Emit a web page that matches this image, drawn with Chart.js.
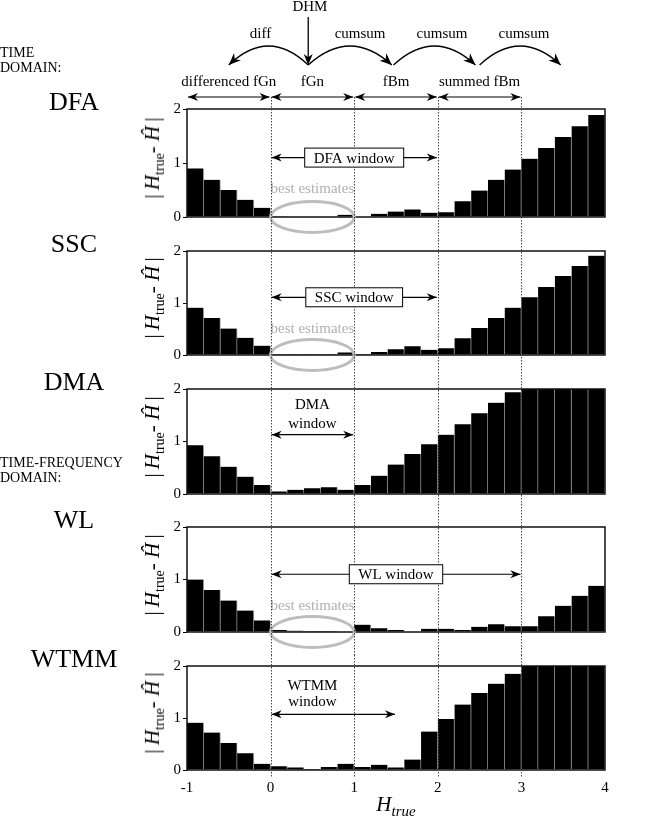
<!DOCTYPE html>
<html><head><meta charset="utf-8">
<script src="https://cdn.jsdelivr.net/npm/chart.js@4.4.0/dist/chart.umd.min.js"></script>
<style>
html,body{margin:0;padding:0;background:#fff;}
#wrap{position:relative;width:656px;height:819px;overflow:hidden;font-family:"Liberation Serif","Times New Roman",serif;color:#000;}
#wrap canvas{position:absolute;left:0;}
.lbl{position:absolute;white-space:nowrap;z-index:5;}
.panel{font-size:26px;transform:translate(-50%,-50%);}
.dom{font-size:14px;line-height:15px;left:0;}
.ytitle{font-size:21px;transform:translate(-50%,-50%) rotate(-90deg);}
.ytitle sub{font-size:14px;}
.xtitle{font-size:21px;transform:translate(-50%,-50%);}
.xtitle sub{font-size:15px;}
</style></head>
<body>
<div id="wrap">
  <div class="lbl dom" style="top:45px">TIME<br>DOMAIN:</div>
  <div class="lbl dom" style="top:455px">TIME-FREQUENCY<br>DOMAIN:</div>
</div>
<script>
// ---- data ----
const hTrue = [-0.9,-0.7,-0.5,-0.3,-0.1,0.1,0.3,0.5,0.7,0.9,1.1,1.3,1.5,1.7,1.9,2.1,2.3,2.5,2.7,2.9,3.1,3.3,3.5,3.7,3.9];
const dfaErr  = [0.90,0.69,0.50,0.32,0.17,0.005,0.01,0.01,0.01,0.04,0.01,0.06,0.10,0.14,0.08,0.09,0.29,0.49,0.69,0.88,1.08,1.28,1.48,1.68,1.89];
const sscErr  = [0.91,0.71,0.51,0.33,0.18,0.02,0.02,0.02,0.02,0.05,0.02,0.06,0.11,0.17,0.10,0.13,0.32,0.52,0.71,0.91,1.11,1.31,1.52,1.71,1.91];
const dmaErr  = [0.93,0.72,0.52,0.33,0.17,0.05,0.08,0.11,0.13,0.08,0.17,0.35,0.56,0.76,0.95,1.13,1.33,1.54,1.74,1.94,2,2,2,2,2];
const wlErr   = [1.00,0.80,0.60,0.41,0.22,0.04,0.025,0.02,0.02,0.01,0.14,0.07,0.04,0.01,0.06,0.06,0.04,0.10,0.15,0.11,0.11,0.30,0.50,0.69,0.88];
const wtmmErr = [0.91,0.72,0.52,0.32,0.12,0.07,0.05,0.02,0.06,0.12,0.06,0.10,0.05,0.20,0.74,0.98,1.26,1.48,1.66,1.85,2,2,2,2,2];
const methods = ['DFA','SSC','DMA','WL','WTMM'];
const signalBoundaries = [0,1,2,3];
const signalClasses = ['differenced fGn','fGn','fBm','summed fBm'];
const signalCenters = [-0.5,0.5,1.5,2.5];
const opLabels = ['diff','cumsum','cumsum','cumsum'];
const opLabelX = [-0.12,1.07,2.05,3.03];
const opArcs = [[0.45,-0.5],[0.45,1.45],[1.47,2.45],[2.5,3.47]];

// ---- layout / annotation config ----
const FONT = '"Liberation Serif","Times New Roman",serif';
Chart.defaults.font.family = FONT;
Chart.defaults.color = '#000';

const panels = [
  {values:dfaErr, band:[0,240], top:109, bottom:217,
   win:{kind:'box', text:'DFA window', x:1, y:1.1, from:0, to:2}, best:0.52},
  {values:sscErr, band:[240,378], top:247, bottom:355,
   win:{kind:'box', text:'SSC window', x:1, y:1.11, from:0, to:2}, best:0.5},
  {values:dmaErr, band:[378,516], top:386, bottom:494,
   win:{kind:'text', lines:[['DMA',1.69],['window',1.33]], x:0.5, y:1.13, from:0, to:1}},
  {values:wlErr, band:[516,655], top:524, bottom:632,
   win:{kind:'box', text:'WL window', x:1.5, y:1.1, from:0, to:3}, best:0.5},
  {values:wtmmErr, band:[655,819], top:662, bottom:770,
   win:{kind:'text', lines:[['WTMM',1.61],['window',1.31]], x:0.5, y:1.07, from:0, to:1.5}}
];

function head(ctx,x,y,ang,len,half){
  const c=Math.cos(ang), s=Math.sin(ang);
  ctx.beginPath();
  ctx.moveTo(x,y);
  ctx.lineTo(x-len*c - half*s, y-len*s + half*c);
  ctx.lineTo(x-0.7*len*c, y-0.7*len*s);
  ctx.lineTo(x-len*c + half*s, y-len*s - half*c);
  ctx.closePath(); ctx.fill();
}
function hArrow(ctx,xa,xb,y,headA,headB){
  ctx.beginPath(); ctx.moveTo(xa,y); ctx.lineTo(xb,y); ctx.stroke();
  if(headA) head(ctx,xa,y,Math.PI,10,4);
  if(headB) head(ctx,xb,y,0,10,4);
}

function makePlugin(p, idx){
  return {
    id:'ann'+idx,
    afterDraw(chart){
      const ctx=chart.ctx, a=chart.chartArea, bt=p.band[0], bh=p.band[1]-p.band[0];
      const X=v=>chart.scales.x.getPixelForValue(v), Y=v=>chart.scales.y.getPixelForValue(v);
      ctx.save();
      ctx.strokeStyle='#111'; ctx.lineWidth=1.5; ctx.setLineDash([]);
      ctx.strokeRect(a.left, a.top, a.right-a.left, a.bottom-a.top);
      if(p.best!==undefined){
        ctx.strokeStyle='#bdbdbd'; ctx.lineWidth=3;
        ctx.beginPath();
        ctx.ellipse(X(0.5), a.bottom, (X(1)-X(0))/2, 15.5, 0, 0, Math.PI*2);
        ctx.stroke();
        ctx.fillStyle='#b0b0b0'; ctx.font='15px '+FONT;
        ctx.textAlign='center'; ctx.textBaseline='middle';
        ctx.fillText('best estimates', X(0.5), Y(p.best));
      }
      const y0 = idx===0 ? 97-bt : 0;
      const y1 = idx===4 ? 777-bt : bh;
      ctx.strokeStyle='#444'; ctx.lineWidth=1; ctx.setLineDash([1.5,1.5]);
      signalBoundaries.forEach(v=>{const x=Math.round(X(v))+0.5; ctx.beginPath(); ctx.moveTo(x,y0); ctx.lineTo(x,y1); ctx.stroke();});
      ctx.setLineDash([]);
      const w=p.win;
      ctx.fillStyle='#000'; ctx.strokeStyle='#000'; ctx.lineWidth=1.2;
      ctx.font='15px '+FONT; ctx.textAlign='center'; ctx.textBaseline='middle';
      if(w.kind==='box'){
        const tw=ctx.measureText(w.text).width, bw=tw+18, bhh=19;
        const cx=X(w.x), cy=Y(w.y);
        hArrow(ctx, X(w.from)+1, cx-bw/2, cy, true, false);
        hArrow(ctx, cx+bw/2, X(w.to)-1, cy, false, true);
        ctx.fillStyle='#fff'; ctx.fillRect(cx-bw/2, cy-bhh/2, bw, bhh);
        ctx.lineWidth=1; ctx.strokeRect(cx-bw/2, cy-bhh/2, bw, bhh);
        ctx.fillStyle='#000'; ctx.fillText(w.text, cx, cy+1);
      } else {
        w.lines.forEach(([t,v])=>ctx.fillText(t, X(w.x), Y(v)));
        hArrow(ctx, X(w.from)+1, X(w.to)-1, Y(w.y), true, true);
      }
      if(idx===0){
        ctx.fillStyle='#000'; ctx.strokeStyle='#000'; ctx.lineWidth=1.3;
        ctx.font='15px '+FONT;
        ctx.fillText('DHM', X(0.47), 7);
        const ax=X(0.45);
        ctx.beginPath(); ctx.moveTo(ax,17); ctx.lineTo(ax,58); ctx.stroke();
        head(ctx, ax, 65, Math.PI/2, 11, 4.5);
        opLabels.forEach((t,i)=>ctx.fillText(t, X(opLabelX[i]), 34));
        opArcs.forEach(([s,e])=>{
          const xs=X(s), xe=X(e), ye=65, yp=46;
          const cx=(xs+xe)/2, cy=2*yp-ye;
          ctx.beginPath(); ctx.moveTo(xs,ye); ctx.quadraticCurveTo(cx,cy,xe,ye); ctx.stroke();
          head(ctx, xe, ye, Math.atan2(ye-cy, xe-cx), 12, 5);
        });
        signalClasses.forEach((t,i)=>ctx.fillText(t, X(signalCenters[i]), 82));
        ctx.lineWidth=1.2;
        for(let i=0;i<signalBoundaries.length;i++){
          const aV = i===0 ? -1 : signalBoundaries[i-1];
          hArrow(ctx, X(aV)+1, X(signalBoundaries[i])-1, 97, true, true);
        }
      }
      ctx.restore();
    }
  };
}

const wrap=document.getElementById('wrap');
panels.forEach((p,idx)=>{
  const cv=document.createElement('canvas');
  const h=p.band[1]-p.band[0];
  cv.width=656; cv.height=h; cv.style.top=p.band[0]+'px'; cv.style.width='656px'; cv.style.height=h+'px';
  wrap.appendChild(cv);
  const last = idx===4;
  const xH = last ? 32 : 0;
  const chart = new Chart(cv.getContext('2d'), {
    type:'bar',
    data:{datasets:[{
      data: hTrue.map((x,k)=>({x:x, y:p.values[k]})),
      backgroundColor:'#000', borderColor:'#a0a0a0',
      borderWidth:{left:0,right:1,top:0,bottom:0}, borderSkipped:false,
      barPercentage:1, categoryPercentage:1
    }]},
    options:{
      responsive:false, animation:false, devicePixelRatio:1,
      layout:{autoPadding:false, padding:{left:147, right:51, top:p.top-p.band[0],
        bottom: h-(p.bottom-p.band[0])-xH}},
      plugins:{legend:{display:false}, tooltip:{enabled:false}},
      scales:{
        x:{type:'linear', min:-1, max:4, offset:false, display:last,
           grid:{display:false, drawTicks:false, offset:false}, border:{display:false},
           ticks:{stepSize:1, padding:9, maxRotation:0, autoSkip:false, font:{size:15, family:FONT}, color:'#000'},
           afterFit(s){ s.height=xH; }},
        y:{min:0, max:2,
           grid:{display:true, drawOnChartArea:false, tickLength:4, color:'#000', lineWidth:1},
           border:{display:false},
           ticks:{stepSize:1, padding:2, font:{size:15, family:FONT}, color:'#000'},
           afterFit(s){ s.width=40; }}
      }
    },
    plugins:[makePlugin(p,idx)]
  });
  const a=chart.chartArea;
  const mid=p.band[0]+(a.top+a.bottom)/2;
  const lab=document.createElement('div');
  lab.className='lbl panel'; lab.textContent=methods[idx];
  lab.style.left='74px'; lab.style.top=(p.band[0]+a.top-7)+'px';
  wrap.appendChild(lab);
  const yt=document.createElement('div');
  yt.className='lbl ytitle';
  yt.innerHTML='|&thinsp;<i>H</i><sub>true</sub>- <i>H&#770;</i>&thinsp;|';
  yt.style.left='154px'; yt.style.top=(mid-5)+'px';
  wrap.appendChild(yt);
  if(last){
    const xt=document.createElement('div');
    xt.className='lbl xtitle';
    xt.innerHTML='<i>H</i><sub><i>true</i></sub>';
    xt.style.left=(a.left+a.right)/2+'px'; xt.style.top='806px';
    wrap.appendChild(xt);
  }
});
</script>
</body></html>
